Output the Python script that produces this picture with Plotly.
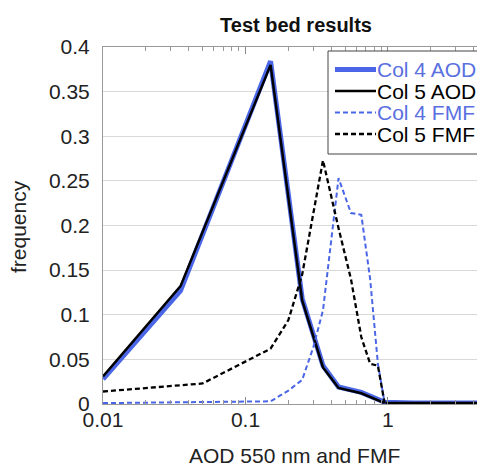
import plotly.graph_objects as go

# ---- data ----
aod_x = [0.01, 0.035, 0.15, 0.25, 0.35, 0.45, 0.65, 0.95, 1.5, 2.5, 5.0]
col4_aod = [0.028, 0.127, 0.384, 0.118, 0.043, 0.019, 0.013, 0.002, 0.001, 0.001, 0.001]
col5_aod = [0.031, 0.132, 0.380, 0.116, 0.041, 0.018, 0.012, 0.001, 0.001, 0.001, 0.001]

fmf4_x = [0.01, 0.05, 0.15, 0.2, 0.25, 0.3, 0.35, 0.45, 0.55, 0.65, 0.75, 0.85, 0.95]
col4_fmf = [0.001, 0.002, 0.003, 0.015, 0.027, 0.064, 0.105, 0.253, 0.214, 0.212, 0.14, 0.045, 0.0]

fmf5_x = [0.01, 0.05, 0.15, 0.2, 0.25, 0.35, 0.45, 0.55, 0.65, 0.75, 0.85, 0.95]
col5_fmf = [0.014, 0.023, 0.062, 0.094, 0.145, 0.273, 0.197, 0.14, 0.075, 0.045, 0.043, 0.0]

series_names = ["Col 4 AOD", "Col 5 AOD", "Col 4 FMF", "Col 5 FMF"]

x_tickvals = [0.01, 0.1, 1]
x_ticktext = ["0.01", "0.1", "1"]
x_minorvals = [0.02, 0.03, 0.04, 0.05, 0.06, 0.07, 0.08, 0.09,
               0.2, 0.3, 0.4, 0.5, 0.6, 0.7, 0.8, 0.9, 2, 3, 4]
y_tickvals = [0, 0.05, 0.1, 0.15, 0.2, 0.25, 0.3, 0.35, 0.4]
y_ticktext = ["0", "0.05", "0.1", "0.15", "0.2", "0.25", "0.3", "0.35", "0.4"]

BLUE = "#4A66E6"
BLUE_TXT = "#5A70E0"
FONT = "Liberation Sans, Arial, sans-serif"
FS = 21

W, H = 477, 466
ML, MR, MT, MB = 103, 0, 47, 62
PW, PH = W - ML - MR, H - MT - MB


def px(x):
    return (x - ML) / PW


def py(y):
    return (H - MB - y) / PH


styles = [
    dict(color=BLUE, width=5),
    dict(color="#000000", width=2.5),
    dict(color=BLUE, width=2, dash="5px,3px"),
    dict(color="#000000", width=2.3, dash="5px,3px"),
]
text_colors = [BLUE_TXT, "#000000", BLUE_TXT, "#000000"]
xs = [aod_x, aod_x, fmf4_x, fmf5_x]
ys = [col4_aod, col5_aod, col4_fmf, col5_fmf]

fig = go.Figure()
for name, x, y, st in zip(series_names, xs, ys, styles):
    fig.add_trace(go.Scatter(x=x, y=y, mode="lines", line=st, name=name, showlegend=False))

fig.update_layout(
    width=W, height=H,
    margin=dict(l=ML, r=MR, t=MT, b=MB),
    paper_bgcolor="white", plot_bgcolor="white",
    font=dict(family=FONT, size=FS, color="#222222"),
    title=dict(text="<b>Test bed results</b>", x=296 / W, xanchor="center",
               y=1 - 25 / H, yanchor="middle",
               font=dict(family=FONT, size=20, color="#111111")),
    showlegend=False,
)

fig.update_xaxes(
    type="log", range=[-2, 0.625], automargin=False,
    tickvals=x_tickvals, ticktext=x_ticktext,
    ticks="inside", ticklen=7, tickcolor="#888888",
    minor=dict(tickvals=x_minorvals, ticks="inside", ticklen=4,
               tickcolor="#999999", showgrid=False),
    showline=True, linecolor="#999999", linewidth=1, mirror="ticks",
    showgrid=False, zeroline=False,
    tickfont=dict(size=FS, color="#222222"), ticklabelstandoff=-3,
)
fig.update_yaxes(
    range=[0, 0.4], automargin=False,
    tickvals=y_tickvals, ticktext=y_ticktext,
    ticks="", showline=True, linecolor="#999999", linewidth=1,
    showgrid=True, gridcolor="#D9D9D9", gridwidth=1, zeroline=False,
    tickfont=dict(size=FS, color="#222222"), ticklabelstandoff=8,
)

# axis titles
fig.add_annotation(text="AOD 550 nm and FMF", xref="paper", yref="paper",
                   x=px(294), y=py(455), xanchor="center", yanchor="middle",
                   showarrow=False, font=dict(family=FONT, size=FS, color="#222222"))
fig.add_annotation(text="frequency", xref="paper", yref="paper",
                   x=px(18), y=py(227), xanchor="center", yanchor="middle",
                   textangle=-90, showarrow=False, font=dict(family=FONT, size=FS, color="#222222"))

# legend box (clipped at the right edge like the reference)
fig.add_shape(type="rect", xref="paper", yref="paper",
              x0=px(328), x1=px(520), y0=py(154), y1=py(51),
              fillcolor="white", line=dict(color="#444444", width=1), layer="above")
row_y = [69.5, 91, 112.5, 134]
for name, st, tc, ry in zip(series_names, styles, text_colors, row_y):
    fig.add_shape(type="line", xref="paper", yref="paper",
                  x0=px(335), x1=px(376), y0=py(ry), y1=py(ry),
                  line=st, layer="above")
    fig.add_annotation(text=name, xref="paper", yref="paper",
                       x=px(375), y=py(ry), xanchor="left", yanchor="middle",
                       showarrow=False, font=dict(family=FONT, size=FS, color=tc))

fig.write_html("out.html", config={"displayModeBar": False},
               post_script="document.body.style.margin='0';")
